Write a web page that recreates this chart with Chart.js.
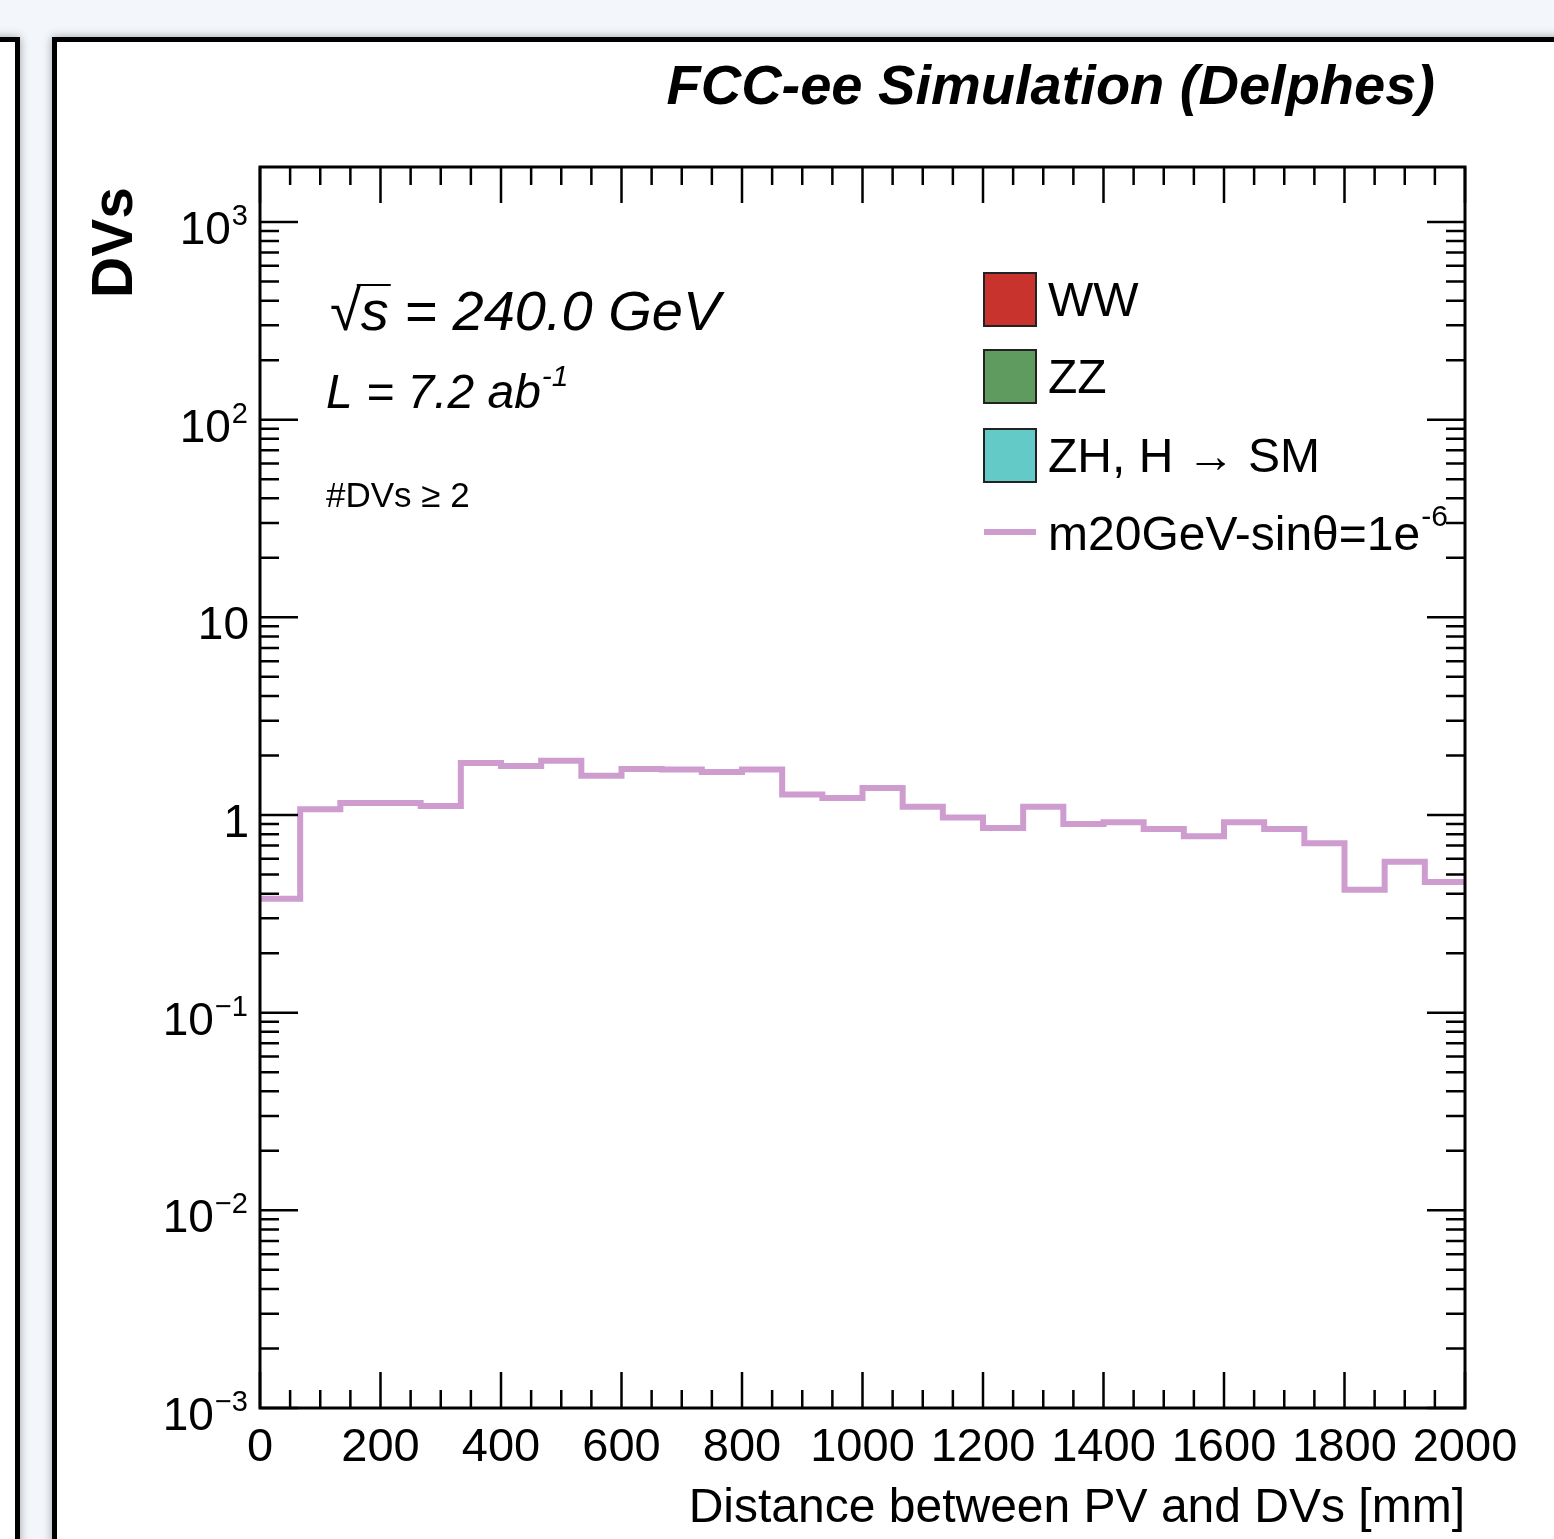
<!DOCTYPE html>
<html>
<head>
<meta charset="utf-8">
<script src="https://cdn.jsdelivr.net/npm/chart.js@4.4.1/dist/chart.umd.min.js"></script>
<style>
  html, body { margin: 0; padding: 0; }
  body { width: 1554px; height: 1539px; background: #f3f7fb; position: relative; overflow: hidden; }
  .panel { position: absolute; background: #fff; border: 5px solid #000; box-shadow: 0 0 9px rgba(0,0,0,0.35); }
  #leftPanel { left: -40px; top: 37px; width: 50px; height: 1600px; }
  #mainPanel { left: 52px; top: 37px; width: 1600px; height: 1600px; }
  #frontpageChart { position: absolute; left: 0; top: 0; }
</style>
</head>
<body>
<div class="panel" id="leftPanel"></div>
<div class="panel" id="mainPanel"></div>
<canvas id="frontpageChart" width="1554" height="1539"></canvas>
<script>
// histogram: 30 bins between 0 and 2000 mm
const xMin = 0;
const xMax = 2000;
const nBins = 30;
const signalValues = [0.377, 1.07, 1.15, 1.15, 1.11, 1.83, 1.77, 1.88, 1.58, 1.71,
                      1.70, 1.65, 1.70, 1.27, 1.22, 1.37, 1.10, 0.97, 0.86, 1.10,
                      0.90, 0.92, 0.85, 0.78, 0.92, 0.85, 0.72, 0.418, 0.58, 0.458];
const xTickValues = [0, 200, 400, 600, 800, 1000, 1200, 1400, 1600, 1800, 2000];
const yTickValues = [1e-3, 1e-2, 1e-1, 1, 10, 100, 1000];
const yMin = 1e-3;
const yMax = 1897;

const legendLabels = ['WW', 'ZZ', 'ZH, H \u2192 SM', 'm20GeV-sin\u03b8=1e'];
const legendColors = ['#c9332e', '#5f9a5f', '#63cac8', '#cf9ccf'];

const FONT = '"Liberation Sans", Arial, Helvetica, sans-serif';
var ctx = document.getElementById('frontpageChart');

// step points at the bin low edges, plus the closing edge
const histPoints = signalValues.map((v, i) => ({ x: xMin + i * (xMax - xMin) / nBins, y: v }));
histPoints.push({ x: xMax, y: signalValues[signalValues.length - 1] });

// "10" + exponent, split so the exponent can be drawn raised
const logParts = (v) => {
    const e = Math.round(Math.log10(v));
    if (e === 0) return ['1', ''];
    if (e === 1) return ['10', ''];
    return ['10', String(e).replace('-', '\u2212')];
};

const drawSup = (c, text, sup, x, y, font, supFont, rise) => {
    c.font = font;
    c.fillText(text, x, y);
    const w = c.measureText(text).width;
    c.font = supFont;
    c.fillText(sup, x + w + 1, y - rise);
};

// ROOT look: inward ticks, frame, labels and legend
const rootStyle = {
    id: 'rootStyle',
    afterDraw(chart) {
        const c = chart.ctx, a = chart.chartArea;
        const xs = chart.scales.x, ys = chart.scales.y;
        c.save();
        c.strokeStyle = '#000';
        c.fillStyle = '#000';
        c.lineWidth = 2.5;
        c.beginPath();
        for (let v = xMin; v <= xMax + 1e-6; v += 50) {
            const px = xs.getPixelForValue(v);
            const len = (v % 200 === 0) ? 36 : 18;
            c.moveTo(px, a.bottom); c.lineTo(px, a.bottom - len);
            c.moveTo(px, a.top); c.lineTo(px, a.top + len);
        }
        for (let e = -3; e <= 3; e++) {
            for (let m = 1; m <= 9; m++) {
                const v = m * Math.pow(10, e);
                if (v < yMin || v > yMax) continue;
                const py = ys.getPixelForValue(v);
                const len = m === 1 ? 38 : 19;
                c.moveTo(a.left, py); c.lineTo(a.left + len, py);
                c.moveTo(a.right, py); c.lineTo(a.right - len, py);
            }
        }
        c.stroke();
        c.lineWidth = 3;
        c.strokeRect(a.left, a.top, a.right - a.left, a.bottom - a.top);

        // y tick labels with raised exponents
        c.textAlign = 'left';
        c.textBaseline = 'alphabetic';
        ys.ticks.forEach(t => {
            const [base, exp] = logParts(t.value);
            const py = ys.getPixelForValue(t.value) + 22;
            c.font = '46px ' + FONT;
            const wb = c.measureText(base).width;
            c.font = '29px ' + FONT;
            const we = exp ? c.measureText(exp).width + 2 : 0;
            const x0 = a.left - 11 - wb - we;
            drawSup(c, base, exp, x0, py, '46px ' + FONT, '29px ' + FONT, 19);
        });

        // header
        c.textAlign = 'right';
        c.font = 'italic bold 56px ' + FONT;
        c.fillText('FCC-ee Simulation (Delphes)', 1435, 104);

        // x title
        c.font = '48px ' + FONT;
        c.fillText('Distance between PV and DVs [mm]', a.right, 1522);

        // y title
        c.save();
        c.translate(132, 187);
        c.rotate(-Math.PI / 2);
        c.font = 'bold 57px ' + FONT;
        c.fillText('DVs', 0, 0);
        c.restore();

        // text box
        c.textAlign = 'left';
        c.font = 'italic 56px ' + FONT;
        c.fillText('\u221as = 240.0 GeV', 330, 330);
        const wRoot = c.measureText('\u221a').width;
        const wS = c.measureText('\u221as').width;
        c.lineWidth = 2;
        c.beginPath();
        c.moveTo(330 + wRoot - 4, 285); c.lineTo(330 + wS + 2, 285);
        c.stroke();
        drawSup(c, 'L = 7.2 ab', '-1', 326, 408, 'italic 48px ' + FONT, 'italic 30px ' + FONT, 22);
        c.font = '35px ' + FONT;
        c.fillText('#DVs \u2265 2', 326, 507);

        // legend
        const rows = [299, 376, 455, 532];
        chart.data.datasets.forEach((ds, i) => {
            const y = rows[i];
            if (ds.legendBox) {
                c.fillStyle = ds.backgroundColor;
                c.fillRect(984, y - 26, 52, 53);
                c.strokeStyle = '#222';
                c.lineWidth = 2;
                c.strokeRect(984, y - 26, 52, 53);
            } else {
                c.strokeStyle = ds.borderColor;
                c.lineWidth = 6;
                c.beginPath();
                c.moveTo(984, y); c.lineTo(1036, y);
                c.stroke();
            }
            c.fillStyle = '#000';
            c.textBaseline = 'alphabetic';
            if (ds.legendBox) {
                c.font = '48px ' + FONT;
                c.fillText(ds.label, 1048, y + 17);
            } else {
                drawSup(c, ds.label, '-6', 1048, y + 18, '48px ' + FONT, '30px ' + FONT, 24);
            }
        });
        c.restore();
    }
};

const datasets = [0, 1, 2].map(i => ({
    label: legendLabels[i],
    data: [],
    backgroundColor: legendColors[i],
    borderColor: legendColors[i],
    legendBox: true
}));
datasets.push({
    label: legendLabels[3],
    data: histPoints,
    borderColor: legendColors[3],
    backgroundColor: legendColors[3],
    borderWidth: 6,
    stepped: 'before',
    pointRadius: 0,
    fill: false,
    borderJoinStyle: 'miter',
    borderCapStyle: 'butt',
    legendBox: false
});

var myChart = new Chart(ctx, {
    type: 'line',
    data: { datasets: datasets },
    options: {
        responsive: false,
        animation: false,
        layout: { padding: { top: 167, right: 89, left: 0, bottom: 0 } },
        plugins: {
            legend: { display: false },
            tooltip: { enabled: false }
        },
        scales: {
            x: {
                type: 'linear',
                min: xMin,
                max: xMax,
                grid: { display: false },
                border: { display: false },
                afterFit: (s) => { s.height = 131; },
                afterBuildTicks: (s) => { s.ticks = xTickValues.map(v => ({ value: v })); },
                ticks: {
                    autoSkip: false,
                    maxRotation: 0,
                    padding: 4,
                    color: '#000',
                    font: { family: FONT, size: 47 },
                    callback: (v) => String(v)
                }
            },
            y: {
                type: 'logarithmic',
                min: yMin,
                max: yMax,
                grid: { display: false },
                border: { display: false },
                afterFit: (s) => { s.width = 260; },
                afterBuildTicks: (s) => { s.ticks = yTickValues.map(v => ({ value: v })); },
                // labels drawn by rootStyle so the exponents can be raised
                ticks: { display: false }
            }
        }
    },
    plugins: [rootStyle]
});
</script>
</body>
</html>
